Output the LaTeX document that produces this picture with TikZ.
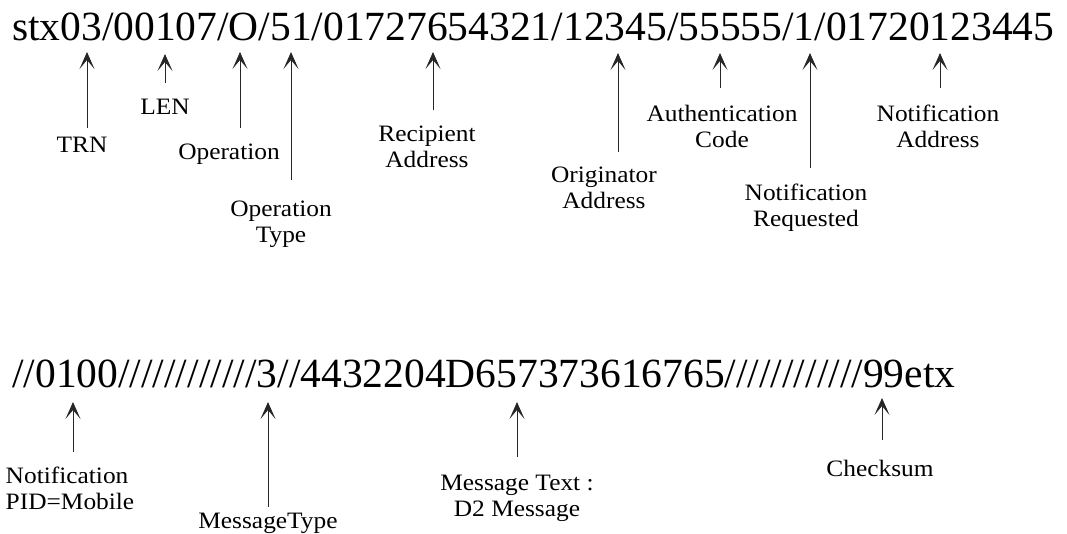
\documentclass[tikz,border=0pt]{standalone}
\usepackage{fontspec}
\setmainfont{Liberation Serif}
\newfontfamily\framefont{Liberation Serif}
\newfontfamily\fieldfont[FakeStretch=1.08]{Liberation Serif}
\usetikzlibrary{arrows.meta}

\tikzset{
  frame/.style={anchor=base west, inner sep=0pt, font={\framefont\fontsize{41.5}{48}\selectfont}},
  field/.style={anchor=north, inner sep=0pt, align=center, font={\fieldfont\fontsize{23.5}{26}\selectfont}},
  ptr/.style={-{Stealth[length=17pt, width=15pt, inset=9pt]}, line width=.9pt, black!85},
}

\begin{document}
\begin{tikzpicture}[x=1pt, y=-1pt]
\useasboundingbox (0,0) rectangle (1067,533);

% the two lines of the message
\node[frame] (line1) at (12,40) {stx03/00107/O/51/01727654321/12345/55555/1/01720123445};
\node[frame] (line2) at (12,387) {//0100////////////3//4432204D657373616765////////////99etx};

% arrow tips under the fields
\coordinate (tTRN) at (87,52);
\coordinate (tLEN) at (165,54);
\coordinate (tOp) at (240,52);
\coordinate (tOpType) at (291,52);
\coordinate (tRcpt) at (433,52);
\coordinate (tOrig) at (618,53);
\coordinate (tAuth) at (720,53);
\coordinate (tNReq) at (810,53);
\coordinate (tNAddr) at (940,53);
\coordinate (tPID) at (73,402);
\coordinate (tMType) at (268,402);
\coordinate (tMText) at (517,402);
\coordinate (tCheck) at (882,398);

% field names
\node[field] (trn) at (82,137) {TRN};
\node[field] (len) at (165,99) {LEN};
\node[field] (op) at (229,144) {Operation};
\node[field] (optype) at (281,201) {Operation\\Type};
\node[field] (rcpt) at (427,126) {Recipient\\Address};
\node[field] (orig) at (604,167) {Originator\\Address};
\node[field] (auth) at (722,105) {Authentication\\Code};
\node[field] (nreq) at (806,184) {Notification\\Requested};
\node[field] (naddr) at (938,105) {Notification\\Address};
\node[field, align=left] (pid) at (70,467) {Notification\\PID=Mobile};
\node[field] (mtype) at (268,513) {MessageType};
\node[field] (mtext) at (517,475) {Message Text :\\D2 Message};
\node[field] (check) at (880,460) {Checksum};

% pointers
\draw[ptr, shorten <=9pt] (trn.north -| tTRN) -- (tTRN);
\draw[ptr, shorten <=16pt] (len.north -| tLEN) -- (tLEN);
\draw[ptr, shorten <=16pt] (op.north -| tOp) -- (tOp);
\draw[ptr, shorten <=21pt] (optype.north -| tOpType) -- (tOpType);
\draw[ptr, shorten <=16pt] (rcpt.north -| tRcpt) -- (tRcpt);
\draw[ptr, shorten <=15pt] (orig.north -| tOrig) -- (tOrig);
\draw[ptr, shorten <=17pt] (auth.north -| tAuth) -- (tAuth);
\draw[ptr, shorten <=16pt] (nreq.north -| tNReq) -- (tNReq);
\draw[ptr, shorten <=17pt] (naddr.north -| tNAddr) -- (tNAddr);
\draw[ptr, shorten <=15pt] (pid.north -| tPID) -- (tPID);
\draw[ptr, shorten <=6pt] (mtype.north -| tMType) -- (tMType);
\draw[ptr, shorten <=18pt] (mtext.north -| tMText) -- (tMText);
\draw[ptr, shorten <=20pt] (check.north -| tCheck) -- (tCheck);

\end{tikzpicture}
\end{document}
